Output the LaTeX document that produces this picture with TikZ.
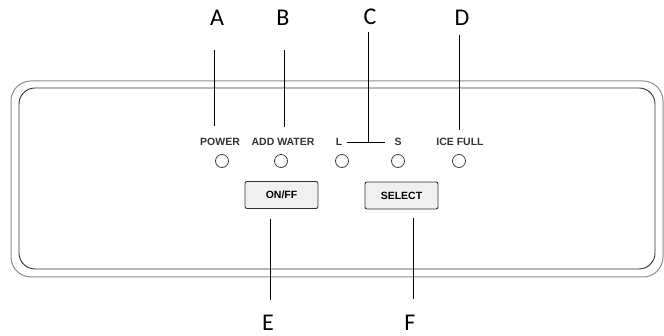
\documentclass[tikz,border=0pt]{standalone}
\usepackage{fontspec}
\setmainfont{Liberation Sans}
\newfontfamily\letterfont{Carlito}
\begin{document}
\begin{tikzpicture}[x=1pt,y=-1pt,
  letter/.style={font=\letterfont\fontsize{24}{24}\selectfont, inner sep=0pt, anchor=center},
  ledlabel/.style={font=\bfseries\fontsize{10.5}{10.5}\selectfont, inner sep=0pt, text=black!80},
  led/.style={circle, draw=black!75, line width=0.8pt, minimum size=13pt, inner sep=0pt},
  button/.style={draw=black!80, line width=0.9pt, rounded corners=2pt, fill=black!6,
    minimum width=73pt, minimum height=27pt, inner sep=0pt,
    font=\bfseries\fontsize{10.5}{10.5}\selectfont},
  leader/.style={draw=black, line width=0.8pt}]
\useasboundingbox (0,0) rectangle (664,336);
% panel outlines
\draw[black!45, line width=1pt, rounded corners=20pt] (11,81) rectangle (663,277);
\draw[black!80, line width=0.9pt, rounded corners=16pt] (19,88) rectangle (655,269);
% top letters
\node[letter] (A) at (217,18) {A};
\node[letter] (B) at (283,18) {B};
\node[letter] (C) at (370,17) {C};
\node[letter] (D) at (462,18) {D};
% LED labels
\node[ledlabel] (power) at (220,142) {POWER};
\node[ledlabel] (water) at (283,142) {ADD WATER};
\node[ledlabel] (L) at (339,142) {L};
\node[ledlabel] (S) at (398,142) {S};
\node[ledlabel] (ice) at (460,142) {ICE FULL};
% LEDs
\node[led] (led1) at (222,161) {};
\node[led] (led2) at (281,161) {};
\node[led] (led3) at (342,161) {};
\node[led] (led4) at (398,161) {};
\node[led] (led5) at (459,161) {};
% buttons
\node[button] (onoff) at (281.5,195) {ON/FF};
\node[button] (select) at (401.5,195.5) {SELECT};
% bottom letters
\node[letter] (E) at (268,323) {E};
\node[letter] (F) at (410,323) {F};
% leader coordinates
\coordinate (a0) at (214,50);  \coordinate (a1) at (214,126);
\coordinate (b0) at (284,50);  \coordinate (b1) at (284,127);
\coordinate (c0) at (368,32);  \coordinate (c1) at (368,142);
\coordinate (d0) at (459,35);  \coordinate (d1) at (459,130);
\coordinate (e0) at (270,219); \coordinate (e1) at (270,300);
\coordinate (f0) at (413,218); \coordinate (f1) at (413,299);
\draw[leader] (a0) -- (a1);
\draw[leader] (b0) -- (b1);
\draw[leader] (c0) -- (c1);
\draw[leader] (d0) -- (d1);
\draw[leader] (e0) -- (e1);
\draw[leader] (f0) -- (f1);
\draw[leader] ([xshift=5pt]L.east) -- ([xshift=-9pt]S.west);
\end{tikzpicture}
\end{document}
